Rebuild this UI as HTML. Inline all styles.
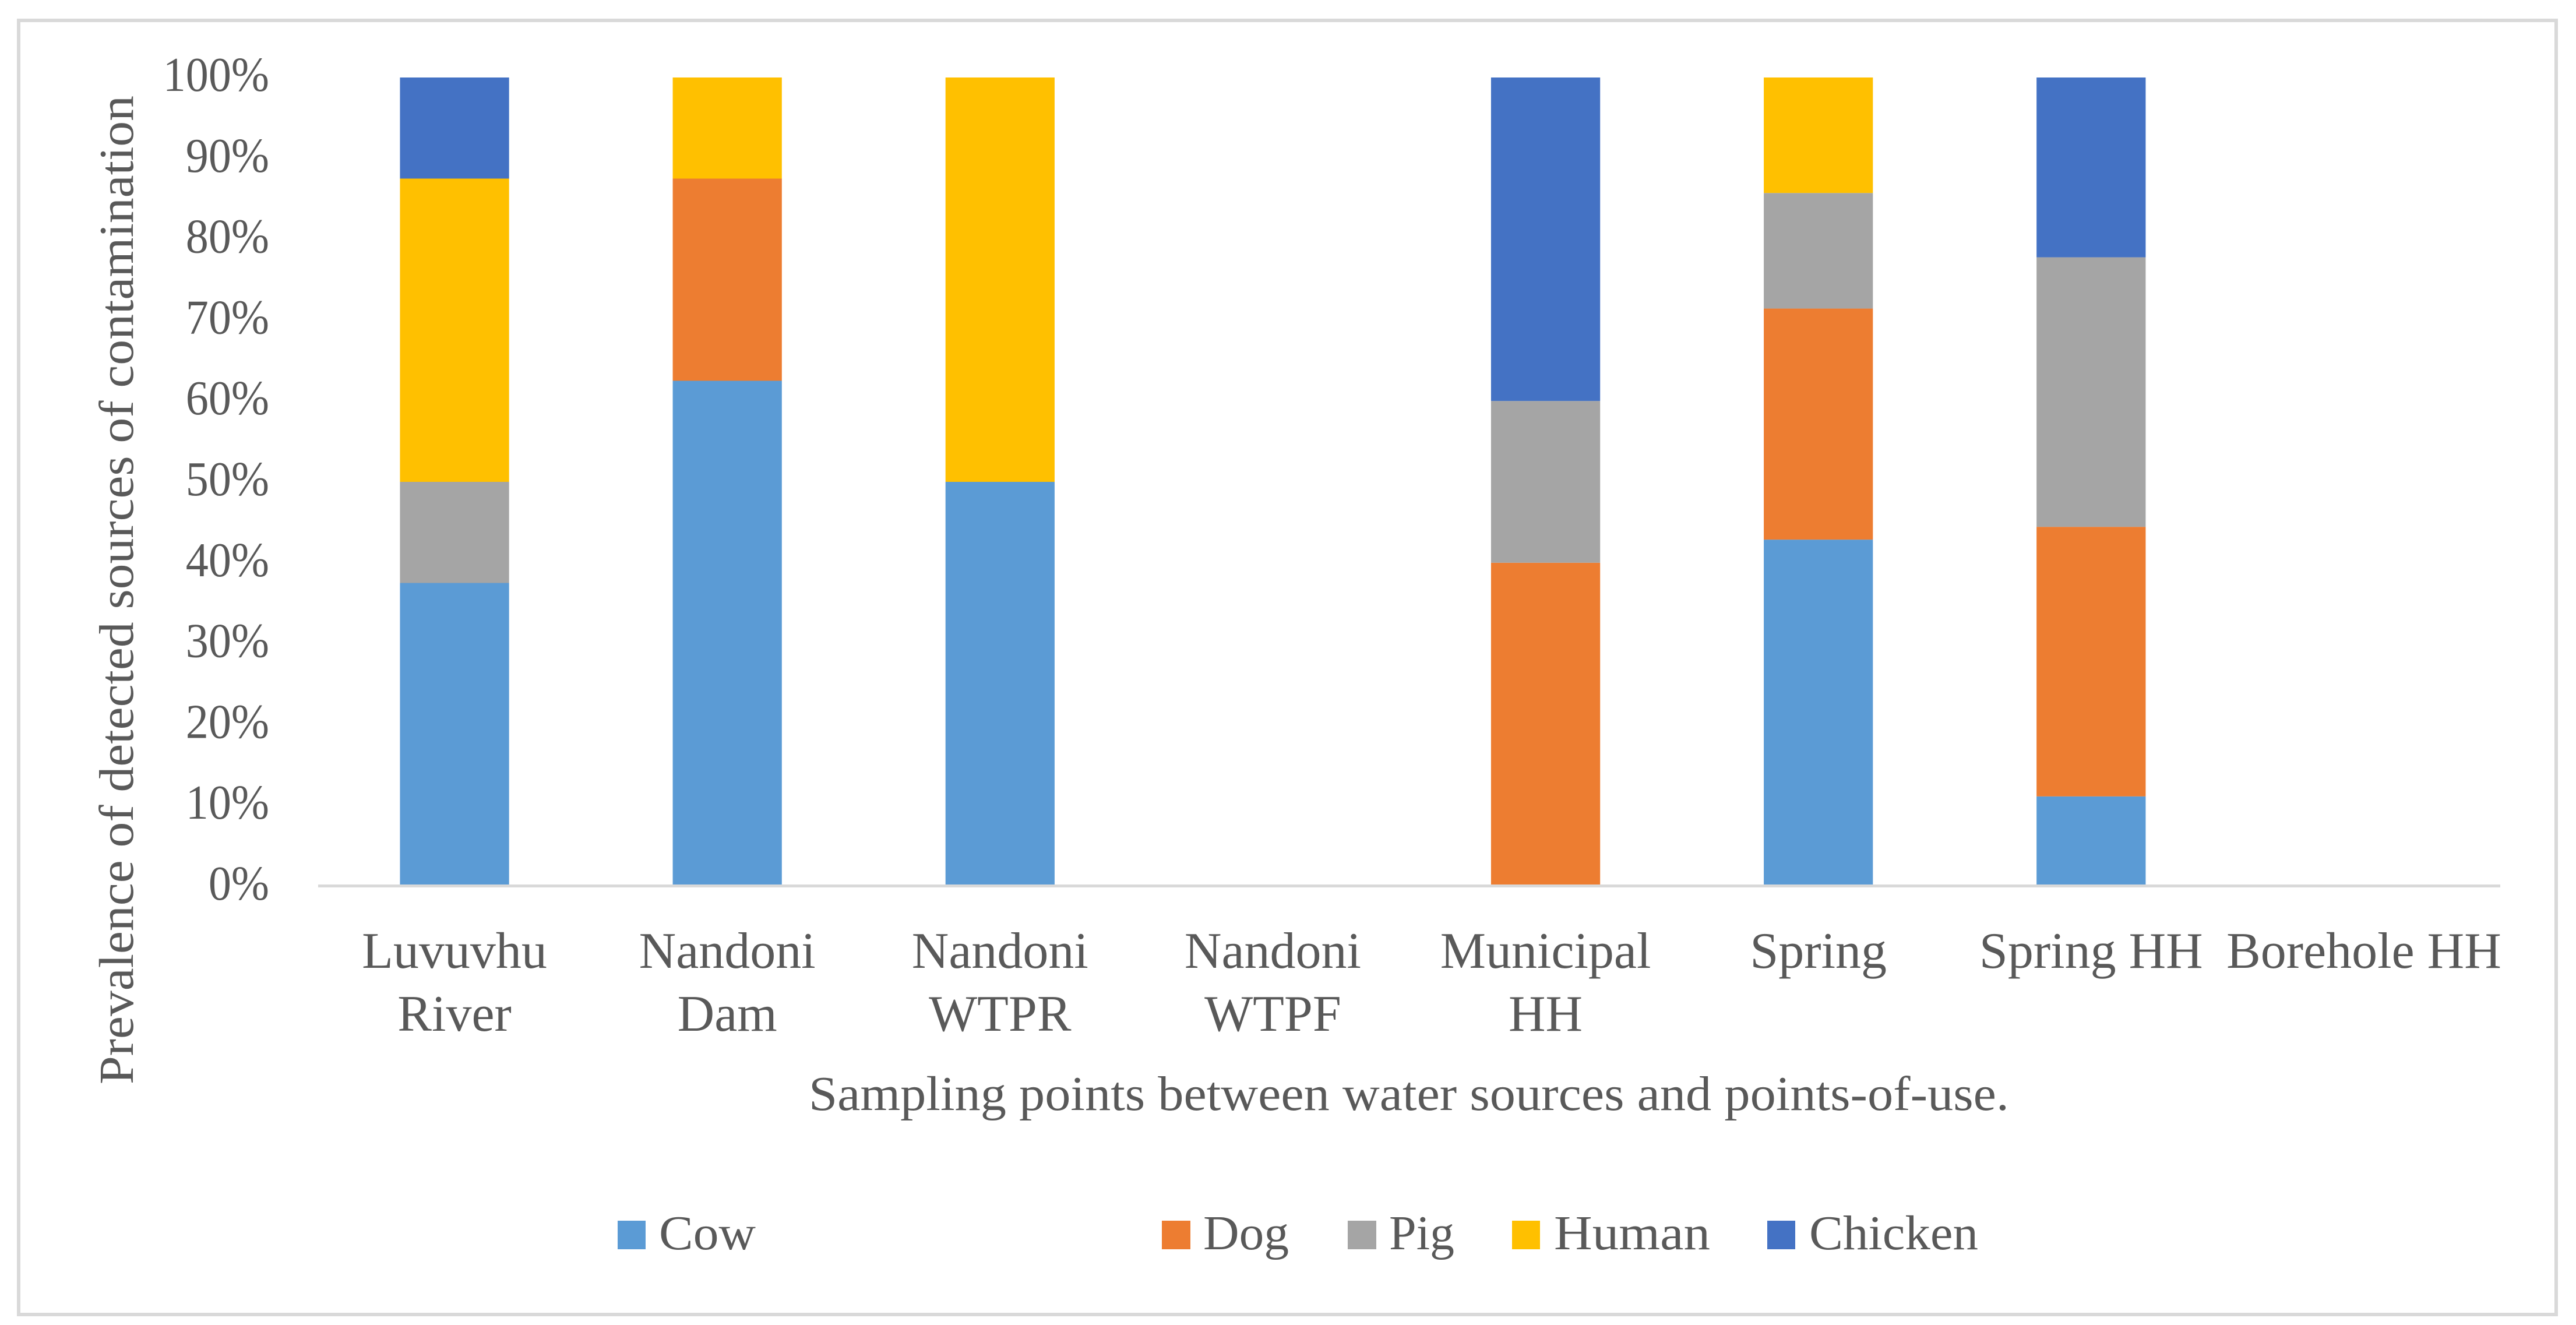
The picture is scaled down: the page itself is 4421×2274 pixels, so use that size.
<!DOCTYPE html>
<html lang="en">
<head>
<meta charset="utf-8">
<title>Prevalence of detected sources of contamination</title>
<style>
  html, body { margin: 0; padding: 0; background: #ffffff; }
  svg { display: block; }
  text { font-family: "Liberation Serif", serif; fill: #595959; }
  .s-cow { fill: #5B9BD5; }
  .s-dog { fill: #ED7D31; }
  .s-pig { fill: #A5A5A5; }
  .s-human { fill: #FFC000; }
  .s-chicken { fill: #4472C4; }
</style>
</head>
<body>
<svg id="chart" xmlns="http://www.w3.org/2000/svg" width="4421" height="2274" viewBox="0 0 4421 2274">
  <rect x="0" y="0" width="4421" height="2274" fill="#ffffff"/>
  <rect x="32" y="35" width="4355" height="2221" fill="none" stroke="#D9D9D9" stroke-width="6"/>
  <g id="bars"></g>
  <g id="y-ticks"></g>
  <g id="x-ticks"></g>
  <rect x="546" y="1518" width="3745" height="5" fill="#D9D9D9"/>
  <text transform="translate(228,1861) rotate(-90)" font-size="84" textLength="1697" lengthAdjust="spacingAndGlyphs">Prevalence of detected sources of contamination</text>
  <text x="1388" y="1905" font-size="84" textLength="2060" lengthAdjust="spacingAndGlyphs">Sampling points between water sources and points-of-use.</text>
  <g>
    <g>
      <rect class="s-cow" x="1060" y="2095" width="48" height="49"/>
      <text x="1131" y="2144" font-size="84" textLength="166" lengthAdjust="spacingAndGlyphs">Cow</text>
    </g>
    <g>
      <rect class="s-dog" x="1994" y="2095" width="49" height="49"/>
      <text x="2065" y="2144" font-size="84" textLength="147" lengthAdjust="spacingAndGlyphs">Dog</text>
    </g>
    <g>
      <rect class="s-pig" x="2313" y="2095" width="49" height="49"/>
      <text x="2384" y="2144" font-size="84" textLength="112" lengthAdjust="spacingAndGlyphs">Pig</text>
    </g>
    <g>
      <rect class="s-human" x="2595" y="2095" width="48" height="49"/>
      <text x="2667" y="2144" font-size="84" textLength="268" lengthAdjust="spacingAndGlyphs">Human</text>
    </g>
    <g>
      <rect class="s-chicken" x="3033" y="2095" width="48" height="49"/>
      <text x="3105" y="2144" font-size="84" textLength="290" lengthAdjust="spacingAndGlyphs">Chicken</text>
    </g>
  </g>
</svg>
<script>
const categories = ["Luvuvhu\nRiver", "Nandoni\nDam", "Nandoni\nWTPR", "Nandoni\nWTPF", "Municipal\nHH", "Spring", "Spring HH", "Borehole HH"];
const cow = [37.5, 62.5, 50, 0, 0, 42.86, 11.11, 0];
const dog = [0, 25, 0, 0, 40, 28.57, 33.33, 0];
const pig = [12.5, 0, 0, 0, 20, 14.29, 33.33, 0];
const human = [37.5, 12.5, 50, 0, 0, 14.28, 0, 0];
const chicken = [12.5, 0, 0, 0, 40, 0, 22.23, 0];
const seriesNames = ["cow", "dog", "pig", "human", "chicken"];
const seriesValues = [cow, dog, pig, human, chicken];
const tickValues = [0, 10, 20, 30, 40, 50, 60, 70, 80, 90, 100];
const tickLabels = ["0%", "10%", "20%", "30%", "40%", "50%", "60%", "70%", "80%", "90%", "100%"];

const SVG_NS = "http://www.w3.org/2000/svg";
const plotLeft = 546, plotRight = 4291, plotTop = 133, plotBottom = 1521;
const slot = (plotRight - plotLeft) / categories.length;
const barWidth = slot / 2.5;
function xCenter(i) { return plotLeft + slot * (i + 0.5); }
function yScale(v) { return plotBottom - (v / 100) * (plotBottom - plotTop); }

const barsGroup = document.getElementById("bars");
const yTicksGroup = document.getElementById("y-ticks");
const xTicksGroup = document.getElementById("x-ticks");

categories.forEach(function (cat, i) {
  let cumulative = 0;
  seriesValues.forEach(function (values, s) {
    const v = values[i];
    if (v > 0) {
      const rect = document.createElementNS(SVG_NS, "rect");
      
      
      rect.setAttribute("class", "s-" + seriesNames[s]);
      rect.setAttribute("x", xCenter(i) - barWidth / 2);
      rect.setAttribute("width", barWidth);
      rect.setAttribute("y", yScale(cumulative + v));
      rect.setAttribute("height", yScale(cumulative) - yScale(cumulative + v));
      barsGroup.appendChild(rect);
    }
    cumulative += v;
  });
  cat.split("\n").forEach(function (line, k) {
    const t = document.createElementNS(SVG_NS, "text");
    
    
    t.setAttribute("x", xCenter(i));
    t.setAttribute("y", 1661 + k * 108);
    t.setAttribute("text-anchor", "middle");
    t.setAttribute("font-size", "88");
    t.textContent = line;
    xTicksGroup.appendChild(t);
  });
});

tickValues.forEach(function (v, i) {
  const t = document.createElementNS(SVG_NS, "text");
  
  
  t.setAttribute("x", 462);
  t.setAttribute("y", yScale(v) + 23);
  t.setAttribute("text-anchor", "end");
  t.setAttribute("font-size", "84");
  t.textContent = tickLabels[i];
  yTicksGroup.appendChild(t);
  t.setAttribute("textLength", t.getComputedTextLength() * 0.93);
  t.setAttribute("lengthAdjust", "spacingAndGlyphs");
});
</script>
</body>
</html>
